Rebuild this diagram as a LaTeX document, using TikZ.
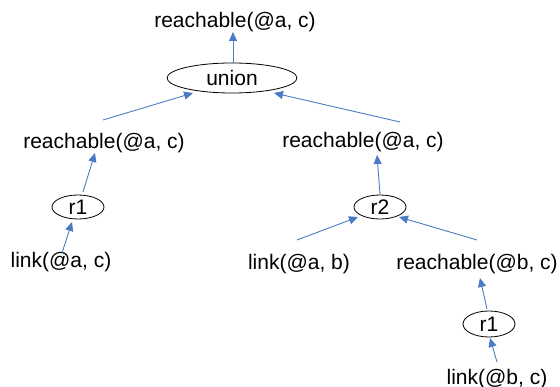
\documentclass[tikz,border=0pt]{standalone}
\usepackage{fontspec}
\setmainfont{Liberation Sans}
\usetikzlibrary{arrows.meta,shapes.geometric}
\definecolor{arrowblue}{RGB}{74,124,196}
\begin{document}
\begin{tikzpicture}[x=1pt,y=-1pt,
  lbl/.style={inner sep=0pt,anchor=base,font=\fontsize{21}{24}\selectfont},
  oval/.style={draw=black,line width=0.8pt,ellipse,inner sep=0pt,font=\fontsize{21}{24}\selectfont},
  conn/.style={draw=arrowblue,line width=0.9pt,-{Triangle[length=9pt,width=8pt]}}]
\useasboundingbox (0,0) rectangle (560,387);
% text nodes
\node[lbl] (top) at (235,28) {reachable(@a, c)};
\node[oval,minimum width=130pt,minimum height=30pt] (union) at (232,78) {union};
\node[lbl] (lreach) at (104,149) {reachable(@a, c)};
\node[lbl] (rreach) at (363,148) {reachable(@a, c)};
\node[oval,minimum width=52pt,minimum height=24pt] (r1a) at (78,207) {r1};
\node[oval,minimum width=52pt,minimum height=24pt] (r2) at (380,207) {r2};
\node[lbl] (linkac) at (61,268) {link(@a, c)};
\node[lbl] (linkab) at (299,270) {link(@a, b)};
\node[lbl] (reachbc) at (477,270) {reachable(@b, c)};
\node[oval,minimum width=52pt,minimum height=26pt] (r1b) at (489,324) {r1};
\node[lbl] (linkbc) at (497,385) {link(@b, c)};
% connector end points
\coordinate (t0s) at (233,63);  \coordinate (t0e) at (233,32);
\coordinate (u1s) at (103,120); \coordinate (u1e) at (193,93);
\coordinate (u2s) at (400,122); \coordinate (u2e) at (274,93);
\coordinate (a1s) at (83,192);  \coordinate (a1e) at (95,153);
\coordinate (a2s) at (62,253);  \coordinate (a2e) at (72,222);
\coordinate (b1s) at (380,194); \coordinate (b1e) at (377,155);
\coordinate (b2s) at (297,240); \coordinate (b2e) at (358,217);
\coordinate (b3s) at (477,240); \coordinate (b3e) at (399,217);
\coordinate (c1s) at (487,309); \coordinate (c1e) at (480,278);
\coordinate (c2s) at (497,362); \coordinate (c2e) at (490,338);
% connectors
\draw[conn] (t0s) -- (t0e);
\draw[conn] (u1s) -- (u1e);
\draw[conn] (u2s) -- (u2e);
\draw[conn] (a1s) -- (a1e);
\draw[conn] (a2s) -- (a2e);
\draw[conn] (b1s) -- (b1e);
\draw[conn] (b2s) -- (b2e);
\draw[conn] (b3s) -- (b3e);
\draw[conn] (c1s) -- (c1e);
\draw[conn] (c2s) -- (c2e);
\end{tikzpicture}
\end{document}
